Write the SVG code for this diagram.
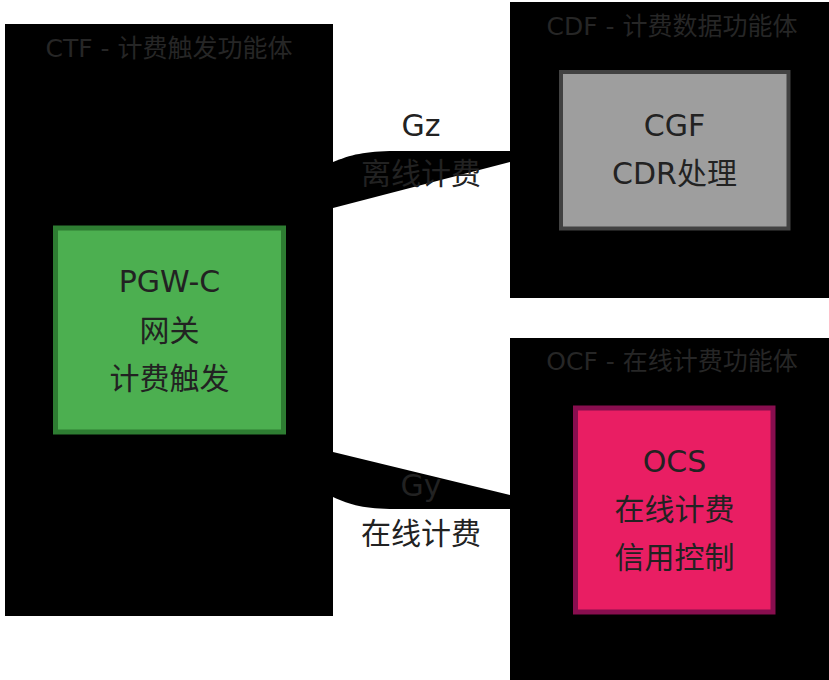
<svg xmlns="http://www.w3.org/2000/svg" width="829" height="680" viewBox="0 0 829 680">
<style>
.cluster{fill:#000;stroke:none}
.title{font-family:"DejaVu Sans","Noto Sans CJK SC",sans-serif;font-size:25px;fill:#262626;text-anchor:middle}
.lbl{font-family:"DejaVu Sans","Noto Sans CJK SC",sans-serif;font-size:30px;fill:#222;text-anchor:middle}
.edge{fill:#000;stroke:none}
</style>
<rect width="829" height="680" fill="#fff"/>
<g id="CTF">
<rect class="cluster" x="5" y="24" width="328" height="592"/>
<text class="title" x="169" y="57">CTF - 计费触发功能体</text>
</g>
<g id="CDF">
<rect class="cluster" x="510" y="2" width="330" height="296"/>
<text class="title" x="672" y="35">CDF - 计费数据功能体</text>
</g>
<g id="OCF">
<rect class="cluster" x="510" y="338" width="330" height="342"/>
<text class="title" x="672" y="370">OCF - 在线计费功能体</text>
</g>
<g id="edges">
<path class="edge" d="M333 162 C350 155 365 151 395 151 L510 151 L510 162 L333 208 Z"/>
<path class="edge" d="M333 452 L510 495 L510 509 L395 509 C365 509 350 505 333 497 Z"/>
<text class="lbl" x="421" y="136">Gz</text>
<text class="lbl" x="421" y="184">离线计费</text>
<text class="lbl" x="421" y="496">Gy</text>
<text class="lbl" x="421" y="544">在线计费</text>
</g>
<g id="PGWC">
<rect x="55.5" y="228" width="228" height="204" fill="#4caf50" stroke="#2e7d32" stroke-width="5"/>
<text class="lbl" x="169.5" y="292">PGW-C</text>
<text class="lbl" x="169.5" y="341">网关</text>
<text class="lbl" x="169.5" y="389">计费触发</text>
</g>
<g id="CGF">
<rect x="561" y="72" width="227.5" height="156.5" fill="#9e9e9e" stroke="#424242" stroke-width="4"/>
<text class="lbl" x="674.5" y="136">CGF</text>
<text class="lbl" x="674.5" y="184">CDR处理</text>
</g>
<g id="OCS">
<rect x="575.5" y="408" width="197.5" height="204" fill="#e91e63" stroke="#880e4f" stroke-width="5"/>
<text class="lbl" x="674.5" y="472">OCS</text>
<text class="lbl" x="674.5" y="520">在线计费</text>
<text class="lbl" x="674.5" y="568">信用控制</text>
</g>
</svg>
